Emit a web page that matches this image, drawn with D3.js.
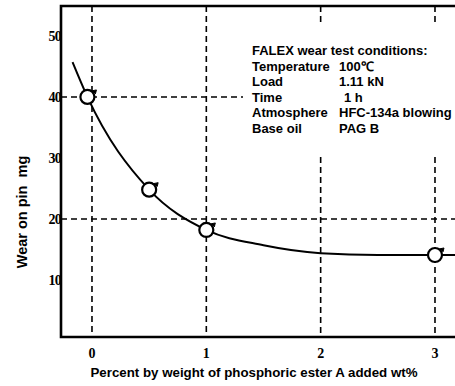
<!DOCTYPE html>
<html>
<head>
<meta charset="utf-8">
<script src="https://cdn.jsdelivr.net/npm/d3@7"></script>
<style>
  body { margin: 0; background: #fff; }
  text { fill: #000; }
</style>
</head>
<body>
<script>
// measured points (wt% added, wear mg)
var pointX = [-0.04, 0.5, 1, 3];
var pointY = [40, 24.8, 18.2, 14.1];
// fitted curve drawn through the points
var curveX = [-0.17, -0.04, 0.5, 1, 1.5, 2, 2.5, 3, 3.18];
var curveY = [45.7, 40, 24.8, 18.2, 15.7, 14.4, 14.1, 14.1, 14.1];
var xTicks = [0, 1, 2, 3];
var yTicks = [10, 20, 30, 40, 50];
var condLabels = ["Temperature", "Load", "Time", "Atmosphere", "Base oil"];
var condValues = ["100\u2103", "1.11 kN", "1 h", "HFC-134a blowing", "PAG B"];

var W = 455, H = 386;
var mLeft = 61, mRight = 455, mTop = 6, mBottom = 337;

var x = d3.scaleLinear().domain([-0.271, 3.175]).range([mLeft, mRight]);
var y = d3.scaleLinear().domain([0.66, 54.9]).range([mBottom, mTop]);

var svg = d3.select("body").append("svg")
    .attr("width", W)
    .attr("height", H);

var dash = "6,4";

// dashed grid
svg.append("line")
  .attr("x1", mLeft).attr("x2", 243)
  .attr("y1", y(40)).attr("y2", y(40))
  .attr("stroke", "#000").attr("stroke-width", 1.6).attr("stroke-dasharray", dash);
svg.append("line")
  .attr("x1", mLeft).attr("x2", mRight)
  .attr("y1", y(20)).attr("y2", y(20))
  .attr("stroke", "#000").attr("stroke-width", 1.6).attr("stroke-dasharray", dash);

xTicks.forEach(function(t) {
  var segs = t < 2 ? [[mTop, mBottom]] : [[mTop, 25], [157, mBottom]];
  segs.forEach(function(s) {
    svg.append("line")
      .attr("x1", x(t)).attr("x2", x(t))
      .attr("y1", s[0]).attr("y2", s[1])
      .attr("stroke", "#000").attr("stroke-width", 1.6).attr("stroke-dasharray", dash);
  });
});

// frame: left, top, bottom
svg.append("path")
  .attr("d", "M" + mRight + "," + mTop + "H" + mLeft + "V" + mBottom + "H" + mRight)
  .attr("fill", "none").attr("stroke", "#000").attr("stroke-width", 2.6);

// tick labels
svg.selectAll(".xt").data(xTicks).enter().append("text")
  .attr("x", function(d) { return x(d); })
  .attr("y", 358)
  .attr("text-anchor", "middle")
  .style("font-family", "Liberation Serif")
  .style("font-weight", "bold")
  .style("font-size", "14px")
  .text(function(d) { return d; });

svg.selectAll(".yt").data(yTicks).enter().append("text")
  .attr("x", mLeft)
  .attr("y", function(d) { return y(d) + 5; })
  .attr("text-anchor", "end")
  .style("font-family", "Liberation Serif")
  .style("font-weight", "bold")
  .style("font-size", "14px")
  .style("letter-spacing", "-0.8px")
  .text(function(d) { return d; });

// axis titles
svg.append("text")
  .attr("transform", "translate(27,212) rotate(-90)")
  .attr("text-anchor", "middle")
  .style("font-family", "Liberation Sans")
  .style("font-weight", "bold")
  .style("font-size", "14.5px")
  .style("white-space", "pre")
  .text("Wear on pin  mg");

svg.append("text")
  .attr("x", 254)
  .attr("y", 377)
  .attr("text-anchor", "middle")
  .style("font-family", "Liberation Sans")
  .style("font-weight", "bold")
  .style("font-size", "13.3px")
  .text("Percent by weight of phosphoric ester A added wt%");

// curve
var line = d3.line()
  .x(function(d, i) { return x(curveX[i]); })
  .y(function(d, i) { return y(curveY[i]); })
  .curve(d3.curveMonotoneX);

svg.append("path")
  .datum(curveX)
  .attr("d", line)
  .attr("fill", "none")
  .attr("stroke", "#000")
  .attr("stroke-width", 2);

// markers
var marks = svg.selectAll(".pt").data(pointX).enter().append("g")
  .attr("transform", function(d, i) { return "translate(" + x(d) + "," + y(pointY[i]) + ")"; });
marks.append("circle")
  .attr("r", 7)
  .attr("fill", "#fff")
  .attr("stroke", "#000")
  .attr("stroke-width", 2.2);
marks.append("path")
  .attr("d", "M4,-6L9,-7L8,-3")
  .attr("fill", "#000")
  .attr("stroke", "#000")
  .attr("stroke-width", 1);

// conditions box
var box = svg.append("g")
  .style("font-family", "Liberation Sans")
  .style("font-weight", "bold")
  .style("font-size", "13px");

box.append("text")
  .attr("x", 252).attr("y", 55)
  .text("FALEX wear test conditions:");

condLabels.forEach(function(l, i) {
  box.append("text")
    .attr("x", 252).attr("y", 70.5 + i * 15.5)
    .text(l);
  box.append("text")
    .attr("x", i === 2 ? 344 : 339).attr("y", 70.5 + i * 15.5)
    .text(condValues[i]);
});
</script>
</body>
</html>
